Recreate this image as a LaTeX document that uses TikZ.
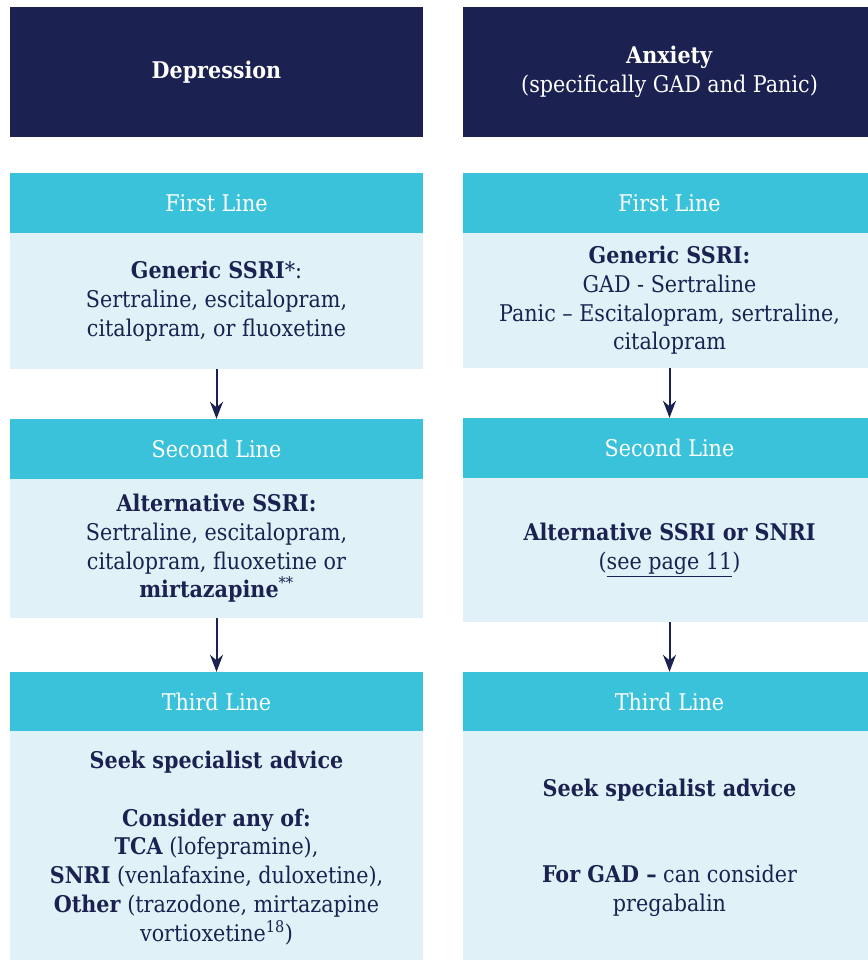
\documentclass[tikz,border=0pt]{standalone}
\usepackage{fontspec}
\setmainfont{DejaVu Serif Condensed}
\usetikzlibrary{arrows.meta}

\definecolor{marine}{HTML}{1B2150}
\definecolor{turquoise}{HTML}{3BC2DB}
\definecolor{pale}{HTML}{E0F2F7}

\tikzset{
  titre/.style={fill=marine, text=white, align=center, inner sep=0pt,
    minimum width=413pt, minimum height=130pt},
  ligne/.style={fill=turquoise, text=white, inner sep=0pt,
    minimum width=413pt, minimum height=60pt},
  corps/.style={fill=pale, text=marine, align=center, inner sep=0pt,
    minimum width=413pt},
  fleche/.style={draw=marine, line width=2pt, -{Stealth[length=17pt,width=13pt]}}
}

\begin{document}
\begin{tikzpicture}[x=1pt,y=-1pt,font=\fontsize{23}{28.7}\selectfont]
\useasboundingbox (0,0) rectangle (867,960);

% colonne de gauche
\node[titre] (depr) at (216.5,72) {\textbf{Depression}};
\node[ligne] (dun) at (216.5,203) {First Line};
\node[corps,minimum height=136pt] (dunb) at (216.5,301)
  {\textbf{Generic SSRI}*:\\ Sertraline, escitalopram,\\ citalopram, or fluoxetine};
\node[ligne] (ddeux) at (216.5,449) {Second Line};
\node[corps,minimum height=139pt] (ddeuxb) at (216.5,548.5)
  {\textbf{Alternative SSRI:}\\ Sertraline, escitalopram,\\ citalopram, fluoxetine or\\ \textbf{mirtazapine}\textsuperscript{**}};
\node[ligne,minimum height=59pt] (dtrois) at (216.5,701.5) {Third Line};
\node[corps,minimum height=234pt] (dtroisb) at (216.5,848)
  {\textbf{Seek specialist advice}\\[28.7pt] \textbf{Consider any of:}\\ \textbf{TCA} (lofepramine),\\
   \textbf{SNRI} (venlafaxine, duloxetine),\\ \textbf{Other} (trazodone, mirtazapine\\ vortioxetine\textsuperscript{18})};

% colonne de droite
\node[titre] (anx) at (669.5,72) {\textbf{Anxiety}\\ (specifically GAD and Panic)};
\node[ligne] (aun) at (669.5,203) {First Line};
\node[corps,minimum height=135pt] (aunb) at (669.5,300.5)
  {\textbf{Generic SSRI:}\\ GAD - Sertraline\\ Panic – Escitalopram, sertraline,\\ citalopram};
\node[ligne] (adeux) at (669.5,448) {Second Line};
\node[corps,minimum height=144pt] (adeuxb) at (669.5,550)
  {\textbf{Alternative SSRI or SNRI}\\ (\underline{see page 11})};
\node[ligne,minimum height=59pt] (atrois) at (669.5,701.5) {Third Line};
\node[corps,minimum height=234pt] (atroisb) at (669.5,848)
  {\textbf{Seek specialist advice}\\[57.4pt] \textbf{For GAD –} can consider\\ pregabalin};

% fleches
\draw[fleche] (dunb) -- (ddeux);
\draw[fleche] (ddeuxb) -- (dtrois);
\draw[fleche] (aunb) -- (adeux);
\draw[fleche] (adeuxb) -- (atrois);
\end{tikzpicture}
\end{document}
